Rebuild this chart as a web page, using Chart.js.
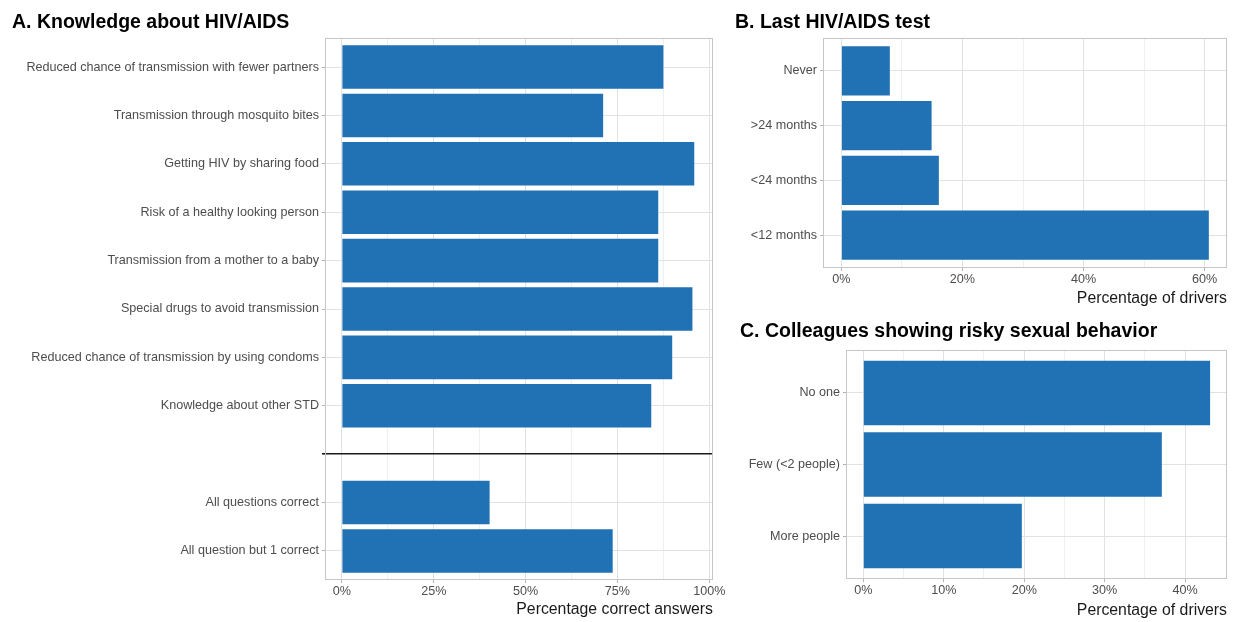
<!DOCTYPE html>
<html lang="en">
<head>
  <meta charset="UTF-8" />
  <title>HIV/AIDS knowledge among drivers</title>
  <script src="https://cdn.jsdelivr.net/npm/chart.js"></script>
  <style>
    body {
      margin: 0;
      background: #fff;
      overflow: hidden;
    }
    .panel {
      position: absolute;
    }
  </style>
</head>
<body>

  <canvas id="knowledgeChart" class="panel" width="735" height="623" style="left:0;top:0"></canvas>
  <canvas id="testChart" class="panel" width="507" height="312" style="left:730px;top:0"></canvas>
  <canvas id="colleagueChart" class="panel" width="502" height="312" style="left:735px;top:312px"></canvas>

  <script>
    // A. knowledge items, then the two summary rows below the separator
    const knowledgeItems = [
      'Reduced chance of transmission with fewer partners',
      'Transmission through mosquito bites',
      'Getting HIV by sharing food',
      'Risk of a healthy looking person',
      'Transmission from a mother to a baby',
      'Special drugs to avoid transmission',
      'Reduced chance of transmission by using condoms',
      'Knowledge about other STD'
    ];
    const knowledgeValues = [87.5, 71.1, 95.9, 86.1, 86.1, 95.4, 89.9, 84.2];
    const summaryItems = ['All questions correct', 'All question but 1 correct'];
    const summaryValues = [40.2, 73.7];
    const knowledgeTicks = [0, 25, 50, 75, 100];

    // B. last test
    const testItems = ['Never', '>24 months', '<24 months', '<12 months'];
    const testValues = [8.0, 14.9, 16.1, 60.7];
    const testTicks = [0, 20, 40, 60];

    // C. colleagues
    const colleagueItems = ['No one', 'Few (<2 people)', 'More people'];
    const colleagueValues = [43.1, 37.1, 19.7];
    const colleagueTicks = [0, 10, 20, 30, 40];

    const BAR = '#2171b5';
    const GRID_MAJOR = '#e2e2e2';
    const GRID_MINOR = '#efefef';
    const BORDER = '#c6c6c6';
    const NONE = 'rgba(0,0,0,0)';

    Chart.defaults.font.family = '"Liberation Sans", Arial, sans-serif';
    Chart.defaults.color = '#4d4d4d';

    const panelBorder = {
      id: 'panelBorder',
      afterDatasetsDraw(chart) {
        const a = chart.chartArea;
        const ctx = chart.ctx;
        ctx.save();
        ctx.strokeStyle = BORDER;
        ctx.lineWidth = 1;
        ctx.strokeRect(Math.round(a.left) + 0.5, Math.round(a.top) + 0.5,
          Math.round(a.right - a.left) - 1, Math.round(a.bottom - a.top) - 1);
        ctx.restore();
      }
    };

    // major ticks plus ggplot style minor lines half way between
    function withMinor(majors) {
      const out = [];
      majors.forEach((v, i) => {
        out.push(v);
        if (i < majors.length - 1) out.push((v + majors[i + 1]) / 2);
      });
      return out;
    }

    const tickVal = c => (c && c.tick) ? c.tick.value : null;

    function makePanel(id, opts) {
      const labels = opts.labels;
      const majors = opts.ticks;
      const allX = withMinor(majors);
      const gap = opts.gapIndex;

      new Chart(document.getElementById(id), {
        type: 'bar',
        data: {
          datasets: [{
            data: opts.points,
            backgroundColor: BAR,
            borderWidth: 0,
            barPercentage: 0.9,
            categoryPercentage: 1.0
          }]
        },
        options: {
          indexAxis: 'y',
          responsive: false,
          animation: false,
          events: [],
          layout: { padding: { left: opts.padLeft, right: opts.padRight, top: 0, bottom: 0 } },
          plugins: {
            legend: { display: false },
            tooltip: { enabled: false },
            title: {
              display: true,
              text: opts.title,
              align: 'start',
              color: '#000',
              font: { size: 19.5, weight: 'bold' },
              padding: opts.titlePad
            }
          },
          scales: {
            x: {
              type: 'linear',
              min: opts.xMin,
              max: opts.xMax,
              afterBuildTicks: s => { s.ticks = allX.map(v => ({ value: v })); },
              afterFit: s => { s.height = opts.xHeight; },
              border: { display: false },
              grid: {
                color: c => majors.includes(tickVal(c)) ? GRID_MAJOR : GRID_MINOR,
                tickColor: c => majors.includes(tickVal(c)) ? '#b3b3b3' : NONE,
                tickLength: 3,
                lineWidth: 1
              },
              ticks: {
                autoSkip: false,
                maxRotation: 0,
                padding: 1,
                font: { size: 12.6 },
                callback: v => majors.includes(v) ? v + '%' : ''
              },
              title: {
                display: true,
                text: opts.xTitle,
                align: 'end',
                color: '#1a1a1a',
                font: { size: 15.8 },
                padding: { top: 3, bottom: 3.5 }
              }
            },
            y: {
              type: 'linear',
              reverse: true,
              offset: false,
              min: -0.6,
              max: labels.length - 0.4,
              afterBuildTicks: s => { s.ticks = labels.map((_, i) => ({ value: i })); },
              afterFit: s => { s.width = opts.yWidth; },
              border: { display: false },
              grid: {
                offset: false,
                color: c => tickVal(c) === gap ? '#1a1a1a' : GRID_MAJOR,
                lineWidth: c => tickVal(c) === gap ? 1.6 : 1,
                tickColor: c => tickVal(c) === gap ? '#1a1a1a' : '#b3b3b3',
                tickLength: 3
              },
              ticks: {
                autoSkip: false,
                padding: 3,
                font: { size: 12.6 },
                callback: v => labels[v] || ''
              }
            }
          }
        },
        plugins: [panelBorder]
      });
    }

    // A: eight questions, an empty slot holding the separator, then the two summaries
    const knowledgeLabels = knowledgeItems.concat([''], summaryItems);
    const gapIndex = knowledgeItems.length;
    const knowledgePoints = knowledgeValues.map((v, i) => ({ x: v, y: i }))
      .concat(summaryValues.map((v, i) => ({ x: v, y: gapIndex + 1 + i })));

    makePanel('knowledgeChart', {
      title: 'A. Knowledge about HIV/AIDS',
      titlePad: { top: 10.5, bottom: 4.1 },
      labels: knowledgeLabels,
      points: knowledgePoints,
      gapIndex: gapIndex,
      ticks: knowledgeTicks,
      xMin: -4.6, xMax: 101,
      xTitle: 'Percentage correct answers',
      padLeft: 12, padRight: 22,
      yWidth: 313, xHeight: 43
    });

    makePanel('testChart', {
      title: 'B. Last HIV/AIDS test',
      titlePad: { top: 10.5, bottom: 4.1 },
      labels: testItems,
      points: testValues.map((v, i) => ({ x: v, y: i })),
      gapIndex: -1,
      ticks: testTicks,
      xMin: -3.04, xMax: 63.7,
      xTitle: 'Percentage of drivers',
      padLeft: 5, padRight: 10,
      yWidth: 88, xHeight: 44
    });

    makePanel('colleagueChart', {
      title: 'C. Colleagues showing risky sexual behavior',
      titlePad: { top: 8, bottom: 6.6 },
      labels: colleagueItems,
      points: colleagueValues.map((v, i) => ({ x: v, y: i })),
      gapIndex: -1,
      ticks: colleagueTicks,
      xMin: -2.15, xMax: 45.2,
      xTitle: 'Percentage of drivers',
      padLeft: 5, padRight: 10,
      yWidth: 106, xHeight: 45
    });
  </script>
</body>
</html>
